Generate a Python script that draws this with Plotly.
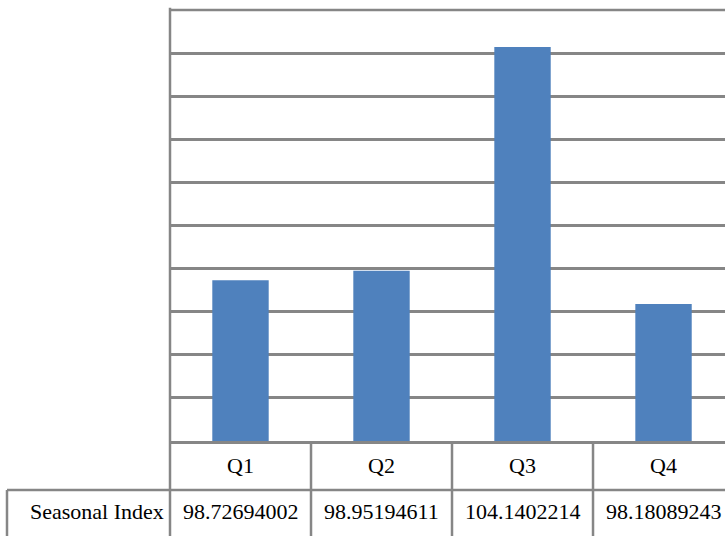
import plotly.graph_objects as go

categories = ["Q1", "Q2", "Q3", "Q4"]
seasonal_index = [98.72694002, 98.95194611, 104.1402214, 98.18089243]
value_labels = ["98.72694002", "98.95194611", "104.1402214", "98.18089243"]
row_label = "Seasonal Index"

GRID = "#868686"
BAR = "#4F81BD"
FONT = dict(family="Liberation Serif, Times New Roman, serif", size=22, color="black")

fig = go.Figure()
fig.add_trace(go.Bar(x=categories, y=seasonal_index, marker=dict(color=BAR, line=dict(width=0)),
                     width=0.4, hoverinfo="x+y"))

# table geometry (paper units below the plot area)
row1_mid = -0.0557
row_sep = -0.1137
row2_mid = -0.1647
bottom = -0.26
label_left = -0.2937

shapes = []
# top border of plot area (top gridline)
shapes.append(dict(type="line", xref="paper", yref="paper", x0=0, x1=1, y0=1, y1=1,
                   line=dict(color=GRID, width=2.5), layer="below"))
# vertical separators between categories through both table rows
for i in range(len(categories)):
    shapes.append(dict(type="line", xref="x", yref="paper", x0=i + 0.5, x1=i + 0.5,
                       y0=0, y1=bottom, line=dict(color=GRID, width=2.5)))
# left axis line extended down through table
shapes.append(dict(type="line", xref="paper", yref="paper", x0=0, x1=0, y0=1.005, y1=bottom,
                   line=dict(color=GRID, width=2.5)))
# row separator
shapes.append(dict(type="line", xref="paper", yref="paper", x0=label_left, x1=1, y0=row_sep, y1=row_sep,
                   line=dict(color=GRID, width=2.5)))
# left border of label cell
shapes.append(dict(type="line", xref="paper", yref="paper", x0=label_left, x1=label_left, y0=row_sep, y1=bottom,
                   line=dict(color=GRID, width=2.5)))

annotations = []
for c, t in zip(categories, value_labels):
    annotations.append(dict(x=c, y=row1_mid, xref="x", yref="paper", text=c, showarrow=False,
                            xanchor="center", yanchor="middle", font=FONT))
    annotations.append(dict(x=c, y=row2_mid, xref="x", yref="paper", text=t, showarrow=False,
                            xanchor="center", yanchor="middle", font=FONT))
annotations.append(dict(x=0, y=row2_mid, xref="paper", yref="paper", text=row_label, showarrow=False,
                        xanchor="right", yanchor="middle", xshift=-4, font=FONT))

fig.update_layout(
    width=725, height=536,
    margin=dict(l=170, r=0, t=10, b=95),
    paper_bgcolor="white", plot_bgcolor="white",
    showlegend=False,
    bargap=0.6,
    xaxis=dict(type="category", range=[-0.5, 3.436], showticklabels=False, ticks="",
               showline=True, linecolor=GRID, linewidth=2.5, showgrid=False, zeroline=False),
    yaxis=dict(range=[95, 105], dtick=1, tick0=95, showticklabels=False, ticks="",
               showgrid=True, gridcolor=GRID, gridwidth=2.5, zeroline=False, showline=False),
    shapes=shapes,
    annotations=annotations,
)

fig.write_html("out.html")
